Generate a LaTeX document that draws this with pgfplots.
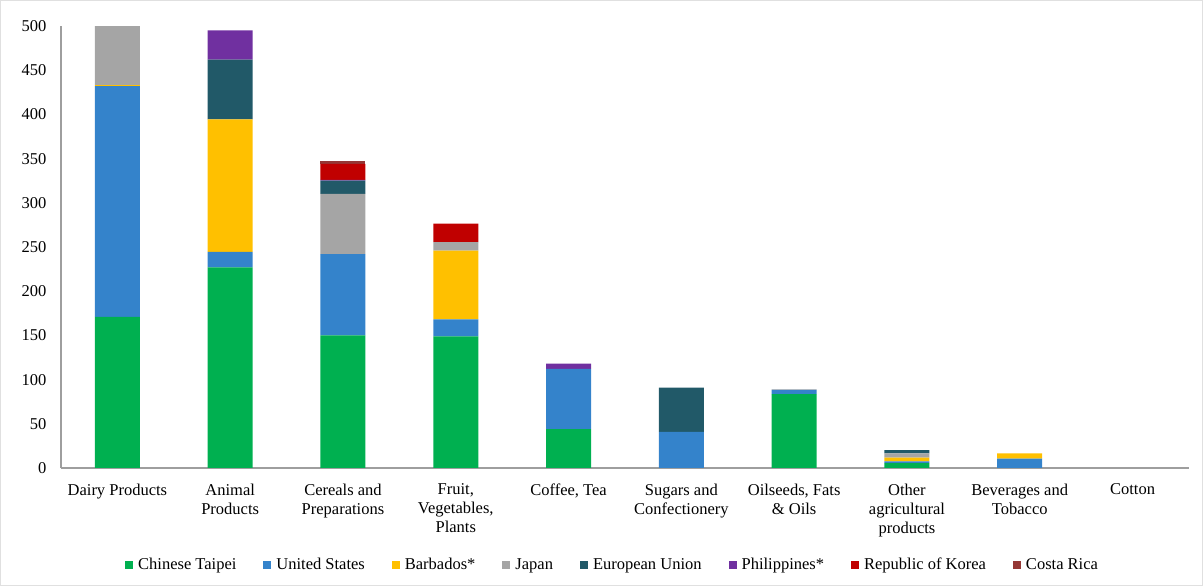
\documentclass[border=0pt]{standalone}
\usepackage{pgfplots}
\pgfplotsset{compat=1.18}
\usepackage{pgfplotstable}
\usepackage{fontspec}
\setmainfont{Liberation Serif}
\definecolor{cCT}{HTML}{00B050}
\definecolor{cUS}{HTML}{3483CB}
\definecolor{cBA}{HTML}{FFC000}
\definecolor{cJP}{HTML}{A5A5A5}
\definecolor{cEU}{HTML}{215968}
\definecolor{cPH}{HTML}{7030A0}
\definecolor{cKR}{HTML}{C00000}
\definecolor{cCR}{HTML}{953735}
\pgfplotstableread{
x CT US BA JP EU PH KR CR
0 171 261 1 67 0 0 0 0
1 227 17.5 150 0 67.5 33 0 0
2 150 92 0 68 15 1 18 3.5
3 149 19 78 9.5 0 0 21 0
4 44 68 0 0 0 6 0 0
5 0 41 0 0 50 0 0 0
6 83.5 5 0 0.5 0 0 0 0
7 5.6 1.8 4.2 4.9 3.8 0 0 0
8 0 10.5 6 0 0 0 0 0
9 0 0 0 0 0 0 0 0
}\datatable
\begin{document}
\fontsize{16.5}{19}\selectfont
\begin{tikzpicture}
\useasboundingbox (-61pt,-118pt) rectangle (1142pt,468pt);
\draw[black!12, line width=1.2pt] (-60.4pt,-117.4pt) rectangle (1141.4pt,467.4pt);
\begin{axis}[
  at={(0pt,0pt)}, anchor=south west,
  scale only axis, width=1128pt, height=442pt,
  ybar stacked, bar width=45pt,
  xmin=-0.5, xmax=9.5, ymin=0, ymax=500,
  ytick={0,50,...,500},
  xtick=data,
  xticklabels={Dairy Products, {Animal\\Products}, {Cereals and\\Preparations}, {Fruit,\\Vegetables,\\Plants}, {Coffee, Tea}, {Sugars and\\Confectionery}, {Oilseeds, Fats\\\& Oils}, {Other\\agricultural\\products}, {Beverages and\\Tobacco}, Cotton},
  xticklabel style={align=center, font=\fontsize{16.5}{19}\selectfont, yshift=-10pt},
  yticklabel style={font=\fontsize{16.5}{19}\selectfont, xshift=-9pt},
  /pgf/number format/assume math mode=true,
  major tick length=0pt,
  axis x line=bottom, axis y line=left,
  axis line style={black!38, line width=1.2pt, -},
  every axis plot/.append style={draw=none},
  legend style={at={(0.489,-0.22)}, anchor=center, draw=none, font=\fontsize{16.5}{19}\selectfont,
    legend columns=8, /tikz/every even column/.append style={column sep=25pt}},
  legend image code/.code={\fill[#1] (0pt,-4pt) rectangle (8pt,4pt);},
  legend style={/tikz/every odd column/.append style={column sep=3pt}},
]
\addplot[fill=cCT] table[x=x,y=CT]{\datatable};
\addplot[fill=cUS] table[x=x,y=US]{\datatable};
\addplot[fill=cBA] table[x=x,y=BA]{\datatable};
\addplot[fill=cJP] table[x=x,y=JP]{\datatable};
\addplot[fill=cEU] table[x=x,y=EU]{\datatable};
\addplot[fill=cPH] table[x=x,y=PH]{\datatable};
\addplot[fill=cKR] table[x=x,y=KR]{\datatable};
\addplot[fill=cCR] table[x=x,y=CR]{\datatable};
\legend{Chinese Taipei, United States, Barbados*, Japan, European Union, Philippines*, Republic of Korea, Costa Rica}
\end{axis}
\end{tikzpicture}
\end{document}
